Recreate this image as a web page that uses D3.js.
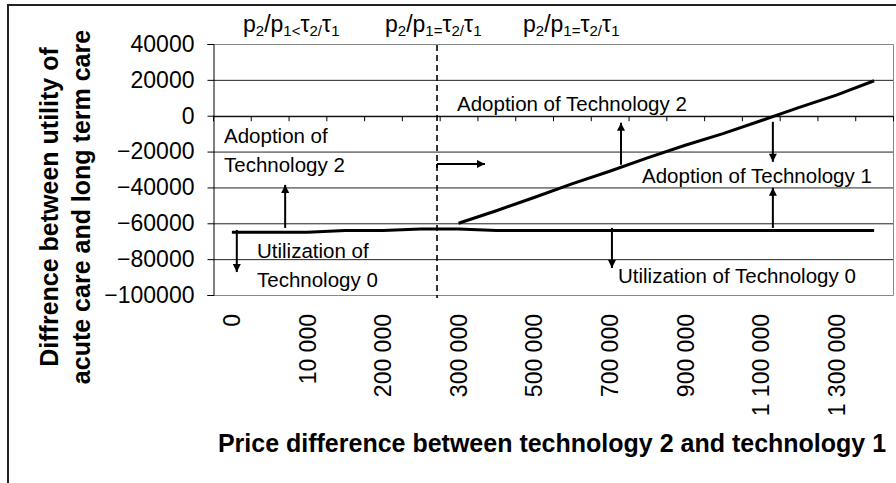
<!DOCTYPE html>
<html>
<head>
<meta charset="utf-8">
<script src="https://cdn.jsdelivr.net/npm/d3@7"></script>
<style>
  body { margin: 0; background: #fff; }
  text { font-family: "Liberation Sans", Arial, sans-serif; fill: #000; }
</style>
</head>
<body>
<div id="chart"></div>
<script>
// categories on the x axis (only every other one is labelled)
const categories = ["0", "5 000", "10 000", "100 000", "200 000", "250 000", "300 000", "400 000", "500 000",
  "600 000", "700 000", "800 000", "900 000", "1 000 000", "1 100 000", "1 200 000", "1 300 000", "1 400 000"]
// flat line (technology 0 / 1 boundary)
const lowerLine = [-65000, -65000, -65000, -64000, -64000, -63200, -63200, -64000, -64000,
  -64000, -64000, -64000, -64000, -64000, -64000, -64000, -64000, -64000]
// rising line (technology 1 / 2 boundary)
const upperLine = [null, null, null, null, null, null, -60000, -53000, -45600,
  -38000, -31000, -23500, -16500, -10000, -2800, 4500, 11500, 19500]
const yTicks = [40000, 20000, 0, -20000, -40000, -60000, -80000, -100000]
const headers = [["p", "2", "/", "p", "1<", "τ", "2/", "τ", "1"],
                 ["p", "2", "/", "p", "1=", "τ", "2/", "τ", "1"],
                 ["p", "2", "/", "p", "1=", "τ", "2/", "τ", "1"]]

const W = 896, H = 483
const PLOT = {LEFT: 213, RIGHT: 893, TOP: 44, BOTTOM: 295}

const svg = d3.select("#chart").append("svg")
  .attr("width", W).attr("height", H)

// outer frame (right and bottom edges fall outside the picture)
svg.append("rect")
  .attr("x", 8).attr("y", 5).attr("width", 1000).attr("height", 1000)
  .attr("fill", "none").attr("stroke", "#222").attr("stroke-width", 2)

// scales
const x = d3.scaleBand().domain(categories).range([PLOT.LEFT, PLOT.RIGHT])
const xi = d3.scaleLinear().domain([0, categories.length]).range([PLOT.LEFT, PLOT.RIGHT]) // index units
const y = d3.scaleLinear().domain([-100000, 40000]).range([PLOT.BOTTOM, PLOT.TOP])

// gridlines
svg.append("g").selectAll("line")
  .data(yTicks.filter(d => d < 40000 && d > -100000))
  .join("line")
  .attr("x1", PLOT.LEFT).attr("x2", PLOT.RIGHT)
  .attr("y1", d => y(d) + 0.5).attr("y2", d => y(d) + 0.5)
  .attr("stroke", "#222").attr("stroke-width", 1)

// plot frame (gray)
svg.append("path")
  .attr("d", `M${PLOT.LEFT},${y(40000) + 0.5}H${PLOT.RIGHT + 0.5}V${y(-100000) + 0.5}H${PLOT.LEFT}`)
  .attr("fill", "none").attr("stroke", "#888")

// y axis
const yAxis = svg.append("g")
  .attr("transform", `translate(${PLOT.LEFT + 0.5},0)`)
  .call(d3.axisLeft(y).tickValues(yTicks).tickSize(6).tickPadding(13).tickFormat(d3.format("d")))
yAxis.select(".domain").attr("stroke", "#000")
yAxis.selectAll(".tick line").attr("stroke", "#000")
yAxis.selectAll("text").attr("font-size", 23).attr("fill", "#000")
  .style("font-family", "'Liberation Sans', Arial, sans-serif")

// x axis line at 0, ticks between categories
const xAxis = svg.append("g")
  .attr("transform", `translate(0,${y(0) + 0.5})`)
  .call(d3.axisBottom(xi).tickValues(d3.range(0, categories.length + 1)).tickSize(5).tickFormat(""))
xAxis.select(".domain").attr("stroke", "#000")
xAxis.selectAll(".tick line").attr("stroke", "#000")

// x tick labels at the bottom, rotated, every second category
const xLabels = svg.append("g")
  .attr("transform", `translate(0,${PLOT.BOTTOM})`)
  .call(d3.axisBottom(x).tickSize(0).tickFormat((d, i) => i % 2 === 0 ? d : ""))
xLabels.select(".domain").remove()
xLabels.selectAll("text")
  .attr("font-size", 23).attr("fill", "#000")
  .style("font-family", "'Liberation Sans', Arial, sans-serif")
  .attr("text-anchor", "end")
  .attr("transform", "rotate(-90)")
  .attr("x", -19).attr("y", 0).attr("dy", "0.36em")

// dashed separator
svg.append("line")
  .attr("x1", xi(5.93)).attr("x2", xi(5.93))
  .attr("y1", 45).attr("y2", 298)
  .attr("stroke", "#000").attr("stroke-width", 1.6).attr("stroke-dasharray", "6,4")

// lines
const line = d3.line()
  .defined(d => d != null)
  .x((d, i) => x(categories[i]) + x.bandwidth() / 2)
  .y(d => y(d))

svg.append("path").datum(lowerLine)
  .attr("d", line).attr("fill", "none").attr("stroke", "#000").attr("stroke-width", 3)
svg.append("path").datum(upperLine)
  .attr("d", line).attr("fill", "none").attr("stroke", "#000").attr("stroke-width", 3)

// arrows
svg.append("defs").append("marker")
  .attr("id", "head").attr("viewBox", "0 0 10 10")
  .attr("refX", 10).attr("refY", 5)
  .attr("markerWidth", 9).attr("markerHeight", 8)
  .attr("markerUnits", "userSpaceOnUse")
  .attr("orient", "auto")
  .append("path").attr("d", "M0,0L10,5L0,10Z").attr("fill", "#000")

// [x0, y0, x1, y1] in category-index units and utility values
const arrows = [
  [0.63, -63700, 0.63, -87200],
  [1.91, -62600, 1.91, -38600],
  [5.93, -26900, 7.2, -26900],
  [10.8, -27400, 10.8, -3900],
  [14.82, -3400, 14.82, -25700],
  [14.82, -62600, 14.82, -40200],
  [10.56, -62600, 10.56, -84900]
]
svg.append("g").selectAll("line")
  .data(arrows)
  .join("line")
  .attr("x1", d => xi(d[0])).attr("y1", d => y(d[1]))
  .attr("x2", d => xi(d[2])).attr("y2", d => y(d[3]))
  .attr("stroke", "#000").attr("stroke-width", 2)
  .attr("marker-end", "url(#head)")
// little start tick on the horizontal arrow
svg.append("line")
  .attr("x1", xi(5.93)).attr("x2", xi(5.93))
  .attr("y1", y(-26900)).attr("y2", y(-26900) + 4)
  .attr("stroke", "#000").attr("stroke-width", 2)

// region notes
const notes = [
  {t: "Adoption of", x: 224, y: 143},
  {t: "Technology 2", x: 224, y: 172},
  {t: "Utilization of", x: 257, y: 258},
  {t: "Technology 0", x: 257, y: 287},
  {t: "Adoption of Technology 2", x: 457, y: 111},
  {t: "Adoption of Technology 1", x: 642, y: 183},
  {t: "Utilization of Technology 0", x: 618, y: 283}
]
svg.append("g").selectAll("text")
  .data(notes)
  .join("text")
  .attr("x", d => d.x).attr("y", d => d.y)
  .attr("font-size", 20.5)
  .text(d => d.t)

// header formulas
const headerX = [243, 385, 523]
const subs = new Set([1, 4, 6, 8])
headers.forEach((h, k) => {
  const t = svg.append("text").attr("x", headerX[k]).attr("y", 32).attr("font-size", 23)
  h.forEach((s, i) => {
    t.append("tspan")
      .attr("font-size", subs.has(i) ? 15 : 23)
      .attr("dy", i === 0 ? 0 : (subs.has(i) ? 4 : (subs.has(i - 1) ? -4 : 0)))
      .text(s)
  })
})

// axis titles
svg.append("text")
  .attr("x", 552).attr("y", 452)
  .attr("text-anchor", "middle")
  .attr("font-size", 25).attr("font-weight", "bold")
  .text("Price difference between technology 2 and technology 1")

const yTitle = svg.append("text")
  .attr("transform", "translate(0,207) rotate(-90)")
  .attr("text-anchor", "middle")
  .attr("font-size", 25).attr("font-weight", "bold")
yTitle.append("tspan").attr("x", 0).attr("y", 58).text("Diffrence between utility of")
yTitle.append("tspan").attr("x", 0).attr("y", 90).text("acute care and long term care")
</script>
</body>
</html>
